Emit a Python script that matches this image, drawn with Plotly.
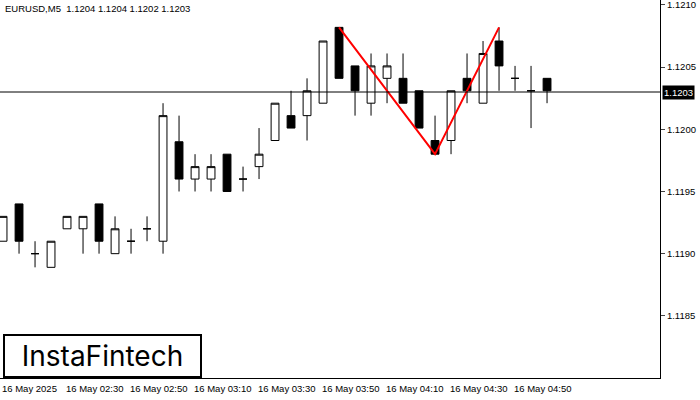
import plotly.graph_objects as go

# candle index 0 = 16 May 02:10, 5-minute bars
idx = list(range(35))
opens = [1.11910, 1.11940, 1.11900, 1.11889, 1.11920, 1.11920, 1.11940, 1.11900, 1.11910, 1.11920,
         1.11910, 1.11990, 1.11960, 1.11960, 1.11980, 1.11960, 1.11970, 1.11991, 1.12011, 1.12011,
         1.12021, 1.12082, 1.12051, 1.12021, 1.12041, 1.12041, 1.12031, 1.11991, 1.11991, 1.12041,
         1.12021, 1.12071, 1.12041, 1.12031, 1.12041]
highs = [1.11930, 1.11940, 1.11910, 1.11910, 1.11930, 1.11930, 1.11940, 1.11930, 1.11920, 1.11930,
         1.12021, 1.12011, 1.11980, 1.11980, 1.11980, 1.11970, 1.12001, 1.12021, 1.12031, 1.12041,
         1.12071, 1.12082, 1.12051, 1.12061, 1.12061, 1.12061, 1.12031, 1.12011, 1.12031, 1.12061,
         1.12071, 1.12082, 1.12051, 1.12051, 1.12041]
lows = [1.11910, 1.11900, 1.11889, 1.11889, 1.11920, 1.11900, 1.11900, 1.11900, 1.11900, 1.11910,
        1.11900, 1.11950, 1.11950, 1.11950, 1.11950, 1.11950, 1.11960, 1.11991, 1.12001, 1.11991,
        1.12021, 1.12041, 1.12011, 1.12011, 1.12021, 1.12021, 1.12001, 1.11980, 1.11980, 1.12021,
        1.12021, 1.12031, 1.12031, 1.12001, 1.12021]
closes = [1.11930, 1.11910, 1.11900, 1.11910, 1.11930, 1.11930, 1.11910, 1.11920, 1.11910, 1.11920,
          1.12011, 1.11960, 1.11970, 1.11970, 1.11950, 1.11960, 1.11980, 1.12021, 1.12001, 1.12031,
          1.12071, 1.12041, 1.12031, 1.12051, 1.12051, 1.12021, 1.12001, 1.11980, 1.12031, 1.12031,
          1.12061, 1.12051, 1.12041, 1.12031, 1.12031]

pattern_x = [21, 27, 31]
pattern_y = [1.12082, 1.11980, 1.12082]

tick_idx = [0, 4, 8, 12, 16, 20, 24, 28, 32]
tick_text = ["16 May 2025", "16 May 02:30", "16 May 02:50", "16 May 03:10", "16 May 03:30",
             "16 May 03:50", "16 May 04:10", "16 May 04:30", "16 May 04:50"]
y_ticks = [1.1185, 1.1190, 1.1195, 1.1200, 1.1205, 1.1210]
last_price = 1.1203

fig = go.Figure()
fig.add_hline(y=last_price, line=dict(color="black", width=1))
fig.add_trace(go.Candlestick(
    x=idx, open=opens, high=highs, low=lows, close=closes,
    increasing=dict(fillcolor="white", line=dict(color="black", width=1)),
    decreasing=dict(fillcolor="black", line=dict(color="black", width=1)),
    whiskerwidth=0, showlegend=False, hoverinfo="skip"))
fig.add_trace(go.Scatter(x=pattern_x, y=pattern_y, mode="lines",
                         line=dict(color="#ff0000", width=2), showlegend=False))

font = dict(family="Liberation Sans", size=9.5, color="black")
for k, t in zip(tick_idx, tick_text):
    fig.add_annotation(x=k, y=0, xref="x", yref="paper", yanchor="top", xanchor="left",
                       xshift=-3, yshift=-3, text=t, showarrow=False, font=font)
# top tick label (plotly drops it at the edge of the page)
fig.add_annotation(x=1, y=y_ticks[-1], xref="paper", yref="y", xanchor="left", xshift=5,
                   text=f"{y_ticks[-1]:.4f}", showarrow=False, font=font)
fig.add_annotation(x=1, y=last_price, xref="paper", yref="y", xanchor="left", xshift=2,
                   text="1.1203", showarrow=False, bgcolor="black",
                   font=dict(family="Liberation Sans", size=9.5, color="white"))
fig.add_annotation(x=0, y=1, xref="paper", yref="paper", xanchor="left", yanchor="top",
                   xshift=3, yshift=-1, text="EURUSD,M5  1.1204 1.1204 1.1202 1.1203",
                   showarrow=False, font=font)
fig.add_annotation(x=0, y=0, xref="paper", yref="paper", xanchor="left", yanchor="bottom",
                   xshift=3, text="InstaFintech", showarrow=False,
                   bordercolor="black", borderwidth=2, bgcolor="white", borderpad=3,
                   width=189, font=dict(family="Inter", size=28, color="black"))

fig.update_layout(
    width=700, height=400, margin=dict(l=0, r=40, t=0, b=22, autoexpand=False),
    paper_bgcolor="white", plot_bgcolor="white",
    xaxis=dict(range=[-0.19, 41.06], showticklabels=False, showgrid=False, zeroline=False,
               rangeslider=dict(visible=False), showline=True, mirror=True,
               linecolor="black", linewidth=1, automargin=False),
    yaxis=dict(range=[1.11800, 1.12104], side="right", tickvals=y_ticks, automargin=False,
               tickformat=".4f", ticks="outside", ticklen=4, showgrid=False, zeroline=False,
               showline=True, mirror=True, linecolor="black", linewidth=1, tickfont=font),
)

fig.write_html("out.html", config={"displayModeBar": False},
               post_script="document.body.style.margin='0';")
